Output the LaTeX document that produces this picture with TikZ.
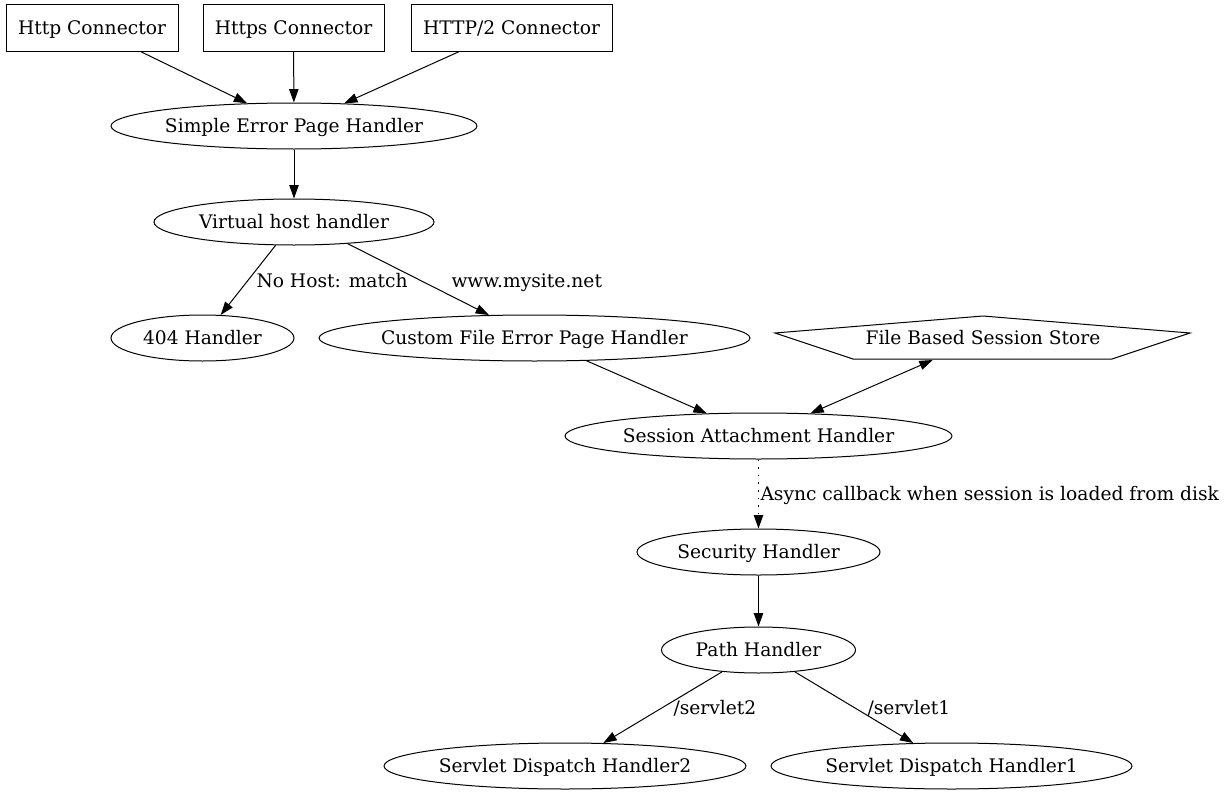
\documentclass[tikz,border=0pt]{standalone}
\usepackage{fontspec}
\setmainfont{DejaVu Serif}
\usetikzlibrary{arrows.meta,shapes.geometric}

\newcommand{\nolen}[1]{\makebox[0pt]{#1}}

\begin{document}
\begin{tikzpicture}[x=0.75pt,y=-0.75pt,line width=0.75pt,
  >={Triangle[length=10pt,width=7pt]},
  every node/.style={font=\fontsize{14pt}{16pt}\selectfont, text height=12.5pt, text depth=3pt},
  conn/.style={draw, rectangle, inner sep=0pt, minimum height=35pt},
  hnd/.style={draw, ellipse, inner sep=0pt, minimum height=34.5pt},
  lbl/.style={inner sep=0pt, anchor=west}]
  \useasboundingbox (0,0) rectangle (1229,796);

  \node[conn, minimum width=129pt] (http) at (92,28) {Http Connector};
  \node[conn, minimum width=135.75pt] (https) at (293.5,28) {Https Connector};
  \node[conn, minimum width=150.75pt] (http2) at (511.5,28) {HTTP/2 Connector};
  \node[hnd, minimum width=274.5pt] (simple) at (294,126) {\nolen{Simple Error Page Handler}};
  \node[hnd, minimum width=210pt] (vhost) at (294,222) {\nolen{Virtual host handler}};
  \node[hnd, minimum width=137.25pt] (notfound) at (202.5,338) {\nolen{404 Handler}};
  \node[hnd, minimum width=323.25pt] (custom) at (534.5,338) {\nolen{Custom File Error Page Handler}};
  \node[inner sep=0pt, minimum width=312pt, minimum height=32.25pt] (store) at (983,338) {File Based Session Store};
  \node[hnd, minimum width=290.25pt] (session) at (758.5,436) {\nolen{Session Attachment Handler}};
  \node[hnd, minimum width=182.25pt] (security) at (758.5,552) {\nolen{Security Handler}};
  \node[hnd, minimum width=145.5pt] (path) at (758.5,650) {\nolen{Path Handler}};
  \node[hnd, minimum width=271.5pt] (servlet2) at (565,766) {\nolen{Servlet Dispatch Handler2}};
  \node[hnd, minimum width=270.75pt] (servlet1) at (951.5,766) {\nolen{Servlet Dispatch Handler1}};

  % session store outline
  \draw (983,316) -- (1190,333) -- (1112,359) -- (853,359) -- (775,333) -- cycle;

  \draw[->] (http) -- (simple);
  \draw[->] (https) -- (simple);
  \draw[->] (http2) -- (simple);
  \draw[->] (simple) -- (vhost);
  \draw[->] (vhost) -- (notfound);
  \draw[->] (vhost.-22) -- (custom);
  \draw[->] (custom) -- (session);
  \draw[<->] (session) -- (store);
  \draw[->, dash pattern=on 1.2pt off 4.5pt] (session) -- (security);
  \draw[->] (security) -- (path);
  \draw[->] (path) -- (servlet2);
  \draw[->] (path) -- (servlet1);

  \node[lbl] (lnohost) at (256,281) {No Host: match};
  \node[lbl] (lsite) at (451,281) {www.mysite.net};
  \node[lbl] (lasync) at (760,494) {Async callback when session is loaded from disk};
  \node[lbl] (ls2) at (673,708) {/servlet2};
  \node[lbl] (ls1) at (867,708) {/servlet1};
\end{tikzpicture}
\end{document}
